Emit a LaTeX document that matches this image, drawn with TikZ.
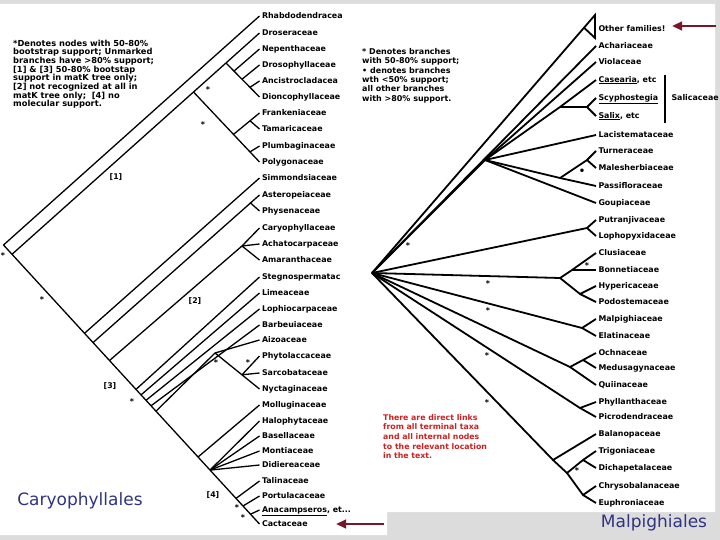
\documentclass[tikz,border=0pt]{standalone}
\usepackage{fontspec}
\setmainfont{DejaVu Sans}
\usetikzlibrary{arrows.meta}
\definecolor{bggrey}{RGB}{220,220,220}
\definecolor{arrowred}{RGB}{122,22,42}
\definecolor{titleblue}{RGB}{48,52,128}
\definecolor{notered}{RGB}{205,32,32}
\tikzset{
  lbl/.style={anchor=west, inner xsep=2.5pt, inner ysep=0pt, outer sep=0pt, text height=5.7pt, text depth=1.6pt, font=\bfseries\fontsize{7.9}{8}\selectfont},
  lnL/.style={line width=1.3pt},
  lnR/.style={line width=1.8pt},
  starmark/.style={inner sep=0pt, font=\bfseries\fontsize{8}{8}\selectfont},
  brk/.style={inner sep=0pt, font=\bfseries\fontsize{7.8}{8}\selectfont},
  legend/.style={anchor=north west, inner sep=0pt, align=left},
  bigarrow/.style={arrowred, line width=2.8pt, -{Triangle[length=10pt,width=8.5pt]}},
  titletext/.style={titleblue, font=\fontsize{17}{17}\selectfont, inner sep=0pt},
}
\begin{document}
\begin{tikzpicture}[x=1pt,y=-1pt]
\useasboundingbox (0,0) rectangle (720,540);
\fill[bggrey] (0,0) rectangle (720,540);
\fill[white] (0,4) -- (715,4) -- (715,512) -- (387,512) -- (387,535) -- (0,535) -- cycle;

% ---------------- left legend
\node[legend, font=\bfseries\fontsize{8.3}{8.7}\selectfont] (legL) at (13,39.5) {*Denotes nodes with 50-80\%\\bootstrap support; Unmarked\\branches have >80\% support;\\{[1]} \& [3] 50-80\% bootstap\\support in matK tree only;\\{[2]} not recognized at all in\\matK tree only;~ [4] no\\molecular support.};

% ---------------- left leaves
\foreach \n/\y/\t in {
 l1/16/{Rhabdodendracea}, l2/33/{Droseraceae}, l3/49/{Nepenthaceae}, l4/65/{Drosophyllaceae},
 l5/81/{Ancistrocladacea}, l6/97/{Dioncophyllaceae}, l7/113/{Frankeniaceae}, l8/129/{Tamaricaceae},
 l9/146/{Plumbaginaceae}, l10/162/{Polygonaceae}, l11/178/{Simmondsiaceae}, l12/195/{Asteropeiaceae},
 l13/211/{Physenaceae}, l14/228/{Caryophyllaceae}, l15/244/{Achatocarpaceae}, l16/260/{Amaranthaceae},
 l17/277/{Stegnospermatac}, l18/293/{Limeaceae}, l19/309/{Lophiocarpaceae}, l20/325/{Barbeuiaceae},
 l21/340/{Aizoaceae}, l22/356/{Phytolaccaceae}, l23/373/{Sarcobataceae}, l24/389/{Nyctaginaceae},
 l25/405/{Molluginaceae}, l26/421/{Halophytaceae}, l27/436/{Basellaceae}, l28/451/{Montiaceae},
 l29/465/{Didiereaceae}, l30/481/{Talinaceae}, l31/496/{Portulacaceae}, l32/510/{\underline{Anacampseros}, et...},
 l33/524/{Cactaceae}}
 \node[lbl] (\n) at (259.5,\y) {\t};

% ---------------- left internal nodes
\coordinate (rL) at (3.5,245);
\coordinate (nB) at (12,254.3);
\coordinate (nD) at (193.5,92);
\coordinate (nD1) at (226,63);
\coordinate (nD2) at (234,71.1);
\coordinate (nD3) at (242,79.2);
\coordinate (nD4) at (250,87.3);
\coordinate (nF) at (233.5,134.4);
\coordinate (nF1) at (250,120.8);
\coordinate (nF2) at (250,151.9);
\coordinate (nS1) at (84.5,333.3);
\coordinate (nS2) at (93,342.6);
\coordinate (nAP) at (250,202.5);
\coordinate (nS3) at (109.5,360.5);
\coordinate (nCA) at (242,246);
\coordinate (nS4) at (136,389.4);
\coordinate (nS5) at (141,394.9);
\coordinate (nS6) at (146,400.3);
\coordinate (nS7) at (151,405.8);
\coordinate (nS8) at (156,411.2);
\coordinate (nAZ) at (215,353);
\coordinate (nPS) at (242,374.8);
\coordinate (nM) at (198,457);
\coordinate (nH) at (210,470.1);
\coordinate (nT) at (236,498.4);
\coordinate (nP) at (243,506);
\coordinate (nA) at (250.5,514.2);

\draw[lnL] (l1.west) -- (rL) -- (l33.west);
\draw[lnL] (nB) -- (l2.west);
\draw[lnL] (nD1) -- (l6.west);
\draw[lnL] (nD2) -- (l3.west);
\draw[lnL] (nD3) -- (l4.west);
\draw[lnL] (nD4) -- (l5.west);
\draw[lnL] (nD) -- (l10.west);
\draw[lnL] (nF) -- (l7.west);
\draw[lnL] (nF1) -- (l8.west);
\draw[lnL] (nF2) -- (l9.west);
\draw[lnL] (nS1) -- (l11.west);
\draw[lnL] (nS2) -- (l12.west);
\draw[lnL] (nAP) -- (l13.west);
\draw[lnL] (nS3) -- (nCA) -- (l14.west);
\draw[lnL] (nCA) -- (l15.west);
\draw[lnL] (nCA) -- (l16.west);
\draw[lnL] (nS4) -- (l17.west);
\draw[lnL] (nS5) -- (l18.west);
\draw[lnL] (nS6) -- (l19.west);
\draw[lnL] (nS7) -- (l20.west);
\draw[lnL] (nS8) -- (nAZ) -- (l21.west);
\draw[lnL] (nAZ) -- (l24.west);
\draw[lnL] (nPS) -- (l22.west);
\draw[lnL] (nPS) -- (l23.west);
\draw[lnL] (nM) -- (l25.west);
\draw[lnL] (nH) -- (l26.west);
\draw[lnL] (nH) -- (l27.west);
\draw[lnL] (nH) -- (l28.west);
\draw[lnL] (nH) -- (l29.west);
\draw[lnL] (nT) -- (l30.west);
\draw[lnL] (nP) -- (l31.west);
\draw[lnL] (nA) -- (l32.west);

% left marks
\node[brk] (b1) at (116,177) {[1]};
\node[brk] (b2) at (195,301) {[2]};
\node[brk] (b3) at (110,386) {[3]};
\node[brk] (b4) at (213,495) {[4]};
\foreach \n/\x/\y in {sa/208/90, sb/203/125, sc/3/256, sd/42/300, se/216/363, sf/248/363, sg/132/402, sh/237/508, si/243/518}
  \node[starmark] (\n) at (\x,\y) {*};

\node[titletext] (carT) at (80,501) {Caryophyllales};

% ---------------- right legend
\node[legend, font=\bfseries\fontsize{8}{9.4}\selectfont] (legR) at (362,48) {* Denotes branches\\with 50-80\% support;\\• denotes branches\\wth <50\% support;\\all other branches\\with >80\% support.};
\node[legend, notered, font=\bfseries\fontsize{7.8}{9.7}\selectfont] (redT) at (383,414) {There are direct links\\from all terminal taxa\\and all internal nodes\\to the relevant location\\in the text.};

% ---------------- right leaves
\foreach \n/\y/\t in {
 r0/29/{Other families!}, r1/46/{Achariaceae}, r2/62/{Violaceae}, r3/80/{\underline{Casearia}, etc},
 r4/98/{\underline{Scyphostegia}}, r5/116/{\underline{Salix}, etc}, r6/135/{Lacistemataceae}, r7/151/{Turneraceae},
 r8/168/{Malesherbiaceae}, r9/186/{Passifloraceae}, r10/203/{Goupiaceae}, r11/220/{Putranjivaceae},
 r12/236/{Lophopyxidaceae}, r13/253/{Clusiaceae}, r14/270/{Bonnetiaceae}, r15/286/{Hypericaceae},
 r16/302/{Podostemaceae}, r17/319/{Malpighiaceae}, r18/336/{Elatinaceae}, r19/353/{Ochnaceae},
 r20/368/{Medusagynaceae}, r21/385/{Quiinaceae}, r22/402/{Phyllanthaceae}, r23/417/{Picrodendraceae},
 r24/434/{Balanopaceae}, r25/451/{Trigoniaceae}, r26/468/{Dichapetalaceae}, r27/486/{Chrysobalanaceae},
 r28/503/{Euphroniaceae}}
 \node[lbl] (\n) at (596,\y) {\t};

\node[lbl] (salT) at (669,98) {Salicaceae};
\coordinate (barT) at (665,75);
\coordinate (barB) at (665,123);
\draw[line width=1.5pt] (barT) -- (barB);

% ---------------- right internal nodes
\coordinate (rR) at (372,273);
\coordinate (tTop) at (595,15);
\coordinate (tBot) at (595,38);
\coordinate (tL) at (584,27.7);
\coordinate (nN) at (485,160);
\coordinate (nSal) at (560,107);
\coordinate (nSS) at (587,107);
\coordinate (nTP) at (560,178);
\coordinate (nTM) at (587,160);
\coordinate (nPL) at (587,228);
\coordinate (nCl) at (560,278);
\coordinate (nCB) at (572,270);
\coordinate (nHP) at (580,294);
\coordinate (nMa) at (582,328);
\coordinate (nOc) at (570,367);
\coordinate (nOM) at (583,360);
\coordinate (nPh) at (580,408);
\coordinate (nBa) at (553,460);
\coordinate (nTE) at (567,473);
\coordinate (nTD) at (583,460);
\coordinate (nCE) at (583,495);

\draw[lnR] (rR) -- (tTop) -- (tBot) -- (tL);
\draw[lnR] (rR) -- (r1.west);
\draw[lnR] (rR) -- (nN);
\draw[lnR] (nN) -- (r2.west);
\draw[lnR] (nN) -- (nSal) -- (r3.west);
\draw[lnR] (nSal) -- (nSS);
\draw[lnR] (nSS) -- (r4.west);
\draw[lnR] (nSS) -- (r5.west);
\draw[lnR] (nN) -- (r6.west);
\draw[lnR] (nN) -- (nTP) -- (nTM) -- (r7.west);
\draw[lnR] (nTM) -- (r8.west);
\draw[lnR] (nTP) -- (r9.west);
\draw[lnR] (nN) -- (r10.west);
\draw[lnR] (rR) -- (nPL) -- (r11.west);
\draw[lnR] (nPL) -- (r12.west);
\draw[lnR] (rR) -- (nCl) -- (nCB) -- (r13.west);
\draw[lnR] (nCB) -- (r14.west);
\draw[lnR] (nCl) -- (nHP) -- (r15.west);
\draw[lnR] (nHP) -- (r16.west);
\draw[lnR] (rR) -- (nMa) -- (r17.west);
\draw[lnR] (nMa) -- (r18.west);
\draw[lnR] (rR) -- (nOc) -- (nOM) -- (r19.west);
\draw[lnR] (nOM) -- (r20.west);
\draw[lnR] (nOc) -- (r21.west);
\draw[lnR] (rR) -- (nPh) -- (r22.west);
\draw[lnR] (nPh) -- (r23.west);
\draw[lnR] (rR) -- (nBa) -- (r24.west);
\draw[lnR] (nBa) -- (nTE) -- (nTD) -- (r25.west);
\draw[lnR] (nTD) -- (r26.west);
\draw[lnR] (nTE) -- (nCE) -- (r27.west);
\draw[lnR] (nCE) -- (r28.west);

\foreach \n/\x/\y in {ra/408/246, rb/488/284, rc/488/311, rd/487/356, re/487/403, rf/577/471, rg/587/266}
  \node[starmark] (\n) at (\x,\y) {*};
\node[starmark, font=\bfseries\fontsize{10}{10}\selectfont] (dotm) at (582,172) {•};

\node[titletext] (malT) at (654,523) {Malpighiales};

% ---------------- arrows
\coordinate (a1s) at (384,524);
\coordinate (a1e) at (336,524);
\draw[bigarrow] (a1s) -- (a1e);
\coordinate (a2s) at (716,26);
\coordinate (a2e) at (672,26);
\draw[bigarrow] (a2s) -- (a2e);
\end{tikzpicture}
\end{document}
